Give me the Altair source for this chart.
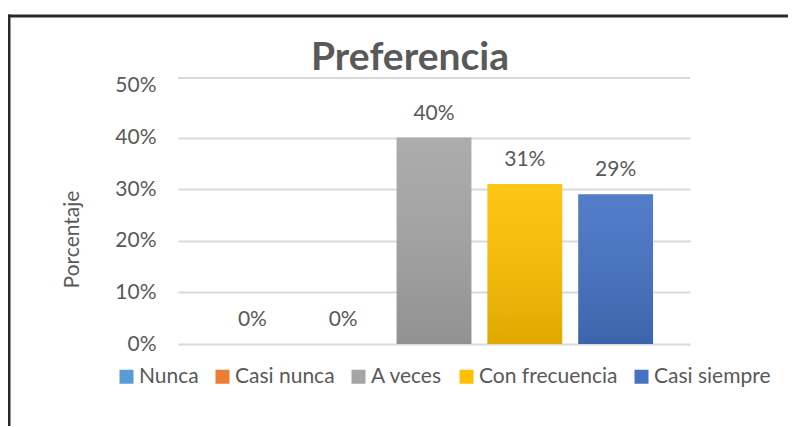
import altair as alt
import pandas as pd

categorias = ["Nunca", "Casi nunca", "A veces", "Con frecuencia", "Casi siempre"]
valores = [0.0, 0.0, 0.40, 0.31, 0.29]
etiquetas = ["0%", "0%", "40%", "31%", "29%"]
colores = ["#5B9BD5", "#ED7D31", "#A5A5A5", "#FFC000", "#4472C4"]
ticks_y = [0, 0.1, 0.2, 0.3, 0.4, 0.5]

df = pd.DataFrame({"cat": categorias, "valor": valores, "etiqueta": etiquetas})
uno = pd.DataFrame({"a": [0]})

W, H = 512, 266
FONT = "Lato"
GRID = "#D9D9D9"
TXT = "#595959"

x = alt.X("cat:N", sort=categorias, axis=None,
          scale=alt.Scale(paddingInner=0.176, paddingOuter=0.407))
y = alt.Y("valor:Q",
          scale=alt.Scale(domain=[0, 0.5155], nice=False, zero=True),
          axis=alt.Axis(values=ticks_y, format="%", domain=False, ticks=False,
                        labelFontSize=21, labelColor=TXT, labelPadding=22,
                        labelFont=FONT,
                        grid=True, gridColor=GRID, gridWidth=2,
                        gridOpacity={"condition": {"test": "datum.value > 0.45", "value": 0}, "value": 1},
                        title="Porcentaje", titleFontSize=21, titleColor=TXT,
                        titleFontWeight="normal", titleFont=FONT,
                        titleX=-106, titleY=161, titleAngle=270,
                        titleAlign="center", titleBaseline="middle"))

base = alt.Chart(df)

bars = base.mark_bar().encode(
    x=x, y=y,
    color=alt.Color("cat:N", sort=categorias,
                    scale=alt.Scale(domain=categorias, range=colores),
                    legend=alt.Legend(title=None, orient="none", direction="horizontal",
                                      legendX=-62, legendY=288, padding=0,
                                      symbolType="square", symbolSize=196,
                                      symbolStrokeWidth=0, labelFontSize=21,
                                      labelColor=TXT, labelFont=FONT,
                                      labelOffset=2, columnPadding=13)),
)

shade = base.mark_bar(
    fill=alt.Gradient(gradient="linear", x1=0, y1=0, x2=0, y2=1,
                      stops=[alt.GradientStop(color="rgba(255,255,255,0.08)", offset=0),
                             alt.GradientStop(color="rgba(0,0,0,0.12)", offset=1)])
).encode(x=x, y=y)

labels = base.mark_text(dy=-24, fontSize=21, color=TXT, font=FONT,
                        baseline="middle").encode(x=x, y=y, text="etiqueta:N")

top_grid = alt.Chart(uno).mark_rule(color=GRID, strokeWidth=2).encode(
    x=alt.value(0), x2=alt.value(W), y=alt.value(0))

title = alt.Chart(uno).mark_text(text="Preferencia", fontSize=39, fontWeight="bold",
                                 color=TXT, font=FONT, align="center",
                                 baseline="alphabetic").encode(
    x=alt.value(232), y=alt.value(-8))

shadow_left = alt.Chart(uno).mark_rule(color="#000000", strokeWidth=7, opacity=0.07).encode(
    x=alt.value(-173), y=alt.value(-60), y2=alt.value(348))
frame_left = alt.Chart(uno).mark_rule(color="#2a2a2a", strokeWidth=3).encode(
    x=alt.value(-169), y=alt.value(-63.5), y2=alt.value(348))
frame_top = alt.Chart(uno).mark_rule(color="#2a2a2a", strokeWidth=3).encode(
    x=alt.value(-170.5), x2=alt.value(620), y=alt.value(-62))

chart = alt.layer(shadow_left, frame_left, frame_top, top_grid, bars, shade, labels, title).properties(
    width=W, height=H,
    autosize=alt.AutoSizeParams(type="none"),
    padding={"left": 170, "top": 70, "right": 98, "bottom": 83},
    background="white",
).configure(font=FONT, view=alt.ViewConfig(stroke="transparent"))

chart.save("out.html", embed_options={"renderer": "svg", "actions": False})
